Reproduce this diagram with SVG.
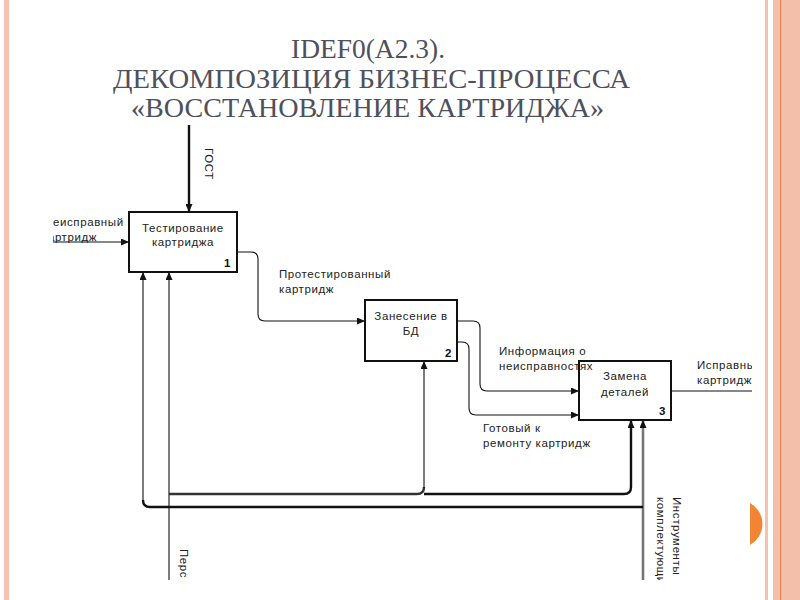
<svg xmlns="http://www.w3.org/2000/svg" width="800" height="600" viewBox="0 0 800 600">
<style>
.title{font-family:"Liberation Serif","Times New Roman","DejaVu Serif",serif;font-size:28px;fill:#50505c}
.lbl{font-family:"Liberation Sans",Arial,sans-serif;font-size:11.5px;fill:#222;letter-spacing:0.6px}
.num{font-family:"Liberation Sans",Arial,sans-serif;font-size:11.5px;fill:#111;font-weight:bold}
.box{fill:#fff;stroke:#111;stroke-width:2}
.thin{fill:none;stroke:#111;stroke-width:1.1}
.thick{fill:none;stroke:#111;stroke-width:2.4}
.gray{fill:none;stroke:#777;stroke-width:2.6}
</style>
<defs>
<marker id="ah" markerUnits="userSpaceOnUse" markerWidth="8" markerHeight="7" refX="8" refY="3.5" orient="auto">
<path d="M0,0 L8,3.5 L0,7 z" fill="#111"/>
</marker>
<clipPath id="clip"><rect x="53" y="118" width="699" height="462"/></clipPath>
</defs>
<rect width="800" height="600" fill="#fff"/>
<g id="frame">
<rect x="4" y="0" width="5" height="600" fill="#f8c3b2"/>
<rect x="765" y="0" width="3" height="600" fill="#f6c1ad"/>
<rect x="773" y="0" width="27" height="600" fill="#f4bfaa"/>
<rect x="780" y="0" width="1.2" height="600" fill="#e8824e"/>
<path d="M750,503 A24,24 0 0,1 750,545 Z" fill="#f28434"/>
</g>
<g id="title">
<text class="title" x="291" y="58" textLength="154" lengthAdjust="spacingAndGlyphs">IDEF0(A2.3).</text>
<text class="title" x="113" y="88" textLength="517" lengthAdjust="spacingAndGlyphs">ДЕКОМПОЗИЦИЯ БИЗНЕС-ПРОЦЕССА</text>
<text class="title" x="131" y="117" textLength="473" lengthAdjust="spacingAndGlyphs">«ВОССТАНОВЛЕНИЕ КАРТРИДЖА»</text>
</g>
<g clip-path="url(#clip)">
<g id="connectors">
<path class="thick" d="M189,125 V212" marker-end="url(#ah)"/>
<path class="thin" d="M45,242 H129" marker-end="url(#ah)"/>
<path class="thin" d="M237,252 H251 Q258,252 258,259 V314 Q258,321 265,321 H365" marker-end="url(#ah)"/>
<path class="thin" d="M457,321 H473 Q480,321 480,328 V384 Q480,391 487,391 H579" marker-end="url(#ah)"/>
<path class="thin" d="M457,342 H462 Q469,342 469,349 V408 Q469,415 476,415 H579" marker-end="url(#ah)"/>
<path class="thin" d="M671,391 H760"/>
<path class="thin" d="M169,585 V272" marker-end="url(#ah)"/>
<path class="thick" style="stroke:#333" d="M169,494 H417 Q424,494 424,487"/>
<path class="thin" d="M424,488 V361" marker-end="url(#ah)"/>
<path class="thick" d="M424,494 H624 Q631,494 631,487 V420" marker-end="url(#ah)"/>
<path class="gray" d="M643,585 V420" marker-end="url(#ah)"/>
<path class="thick" d="M643,507 H150 Q143,507 143,500"/>
<path class="thin" d="M143,501 V272" marker-end="url(#ah)"/>
</g>
</g>
<g id="node1">
<rect class="box" x="129" y="212" width="108" height="60"/>
<text class="lbl" x="183" y="232" text-anchor="middle">Тестирование</text>
<text class="lbl" x="183" y="246" text-anchor="middle">картриджа</text>
<text class="num" x="224" y="267">1</text>
</g>
<g id="node2">
<rect class="box" x="365" y="300" width="92" height="61"/>
<text class="lbl" x="411" y="320" text-anchor="middle">Занесение в</text>
<text class="lbl" x="411" y="335" text-anchor="middle">БД</text>
<text class="num" x="445" y="357">2</text>
</g>
<g id="node3">
<rect class="box" x="579" y="361" width="92" height="59"/>
<text class="lbl" x="625" y="380" text-anchor="middle">Замена</text>
<text class="lbl" x="625" y="396" text-anchor="middle">деталей</text>
<text class="num" x="659" y="415">3</text>
</g>
<g id="labels" clip-path="url(#clip)">
<text class="lbl" x="205" y="148" transform="rotate(90 205 148)">ГОСТ</text>
<text class="lbl" x="46" y="226">неисправный</text>
<text class="lbl" x="42" y="241">картридж</text>
<text class="lbl" x="279" y="278">Протестированный</text>
<text class="lbl" x="279" y="293">картридж</text>
<text class="lbl" x="499" y="355">Информация о</text>
<text class="lbl" x="499" y="370">неисправностях</text>
<text class="lbl" x="483" y="432">Готовый к</text>
<text class="lbl" x="483" y="447">ремонту картридж</text>
<text class="lbl" x="697" y="369">Исправные</text>
<text class="lbl" x="697" y="384">картридж</text>
<text class="lbl" x="673" y="497" transform="rotate(90 673 497)">Инструменты</text>
<text class="lbl" x="657" y="497" transform="rotate(90 657 497)">комплектующие</text>
<text class="lbl" x="180" y="549" transform="rotate(90 180 549)">Перс</text>
</g>
</svg>
